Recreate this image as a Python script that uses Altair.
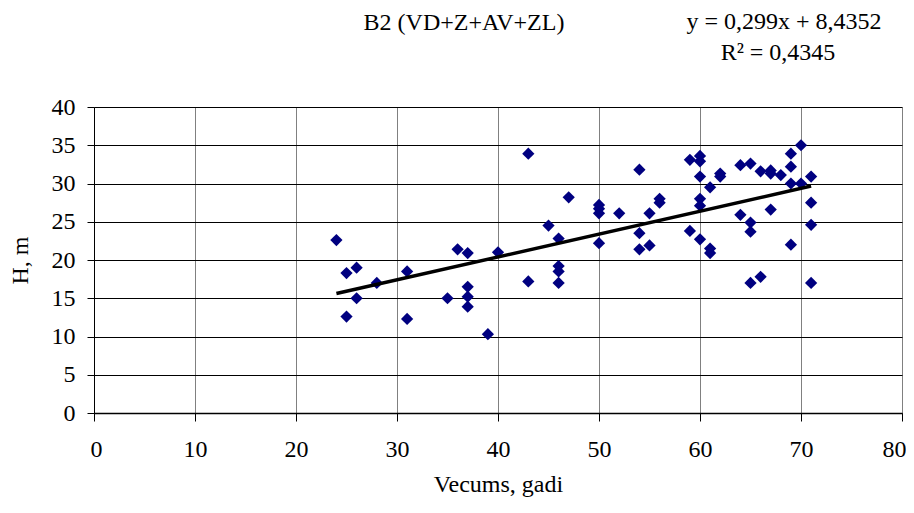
import altair as alt
import pandas as pd

# Data (age in years, height in m)
age = [24, 25, 25, 26, 26, 28, 31, 31, 35, 36, 37, 37, 37, 37, 39, 40,
       43, 43, 45, 46, 46, 46, 46, 47, 50, 50, 50, 50, 52, 54, 54, 54,
       55, 55, 56, 56, 59, 59, 60, 60, 60, 60, 60, 60, 61, 61, 61, 62, 62,
       64, 64, 65, 65, 65, 65, 66, 66, 67, 67, 67, 68, 69, 69, 69, 69,
       70, 70, 71, 71, 71, 71]
height = [22.6, 18.3, 12.6, 19.0, 15.0, 17.0, 18.5, 12.3, 15.0, 21.4, 20.9, 16.5, 15.2, 13.9, 10.3, 21.0,
          33.9, 17.2, 24.5, 22.8, 19.2, 18.5, 17.0, 28.2, 27.2, 26.7, 26.1, 22.2, 26.1, 31.8, 23.5, 21.4,
          26.1, 21.9, 28.0, 27.5, 33.1, 23.8, 33.6, 32.9, 30.9, 28.0, 27.1, 22.7, 29.5, 21.5, 20.9, 31.3, 30.9,
          32.4, 25.9, 32.6, 24.9, 23.7, 17.0, 31.6, 17.8, 31.7, 31.3, 26.6, 31.1, 33.9, 32.2, 30.0, 22.0,
          35.0, 30.0, 30.9, 27.5, 24.6, 17.0]

slope = 0.299
intercept = 8.4352
trend_x = [24, 71]

x_ticks = [0, 10, 20, 30, 40, 50, 60, 70, 80]
y_ticks = [0, 5, 10, 15, 20, 25, 30, 35, 40]

title_text = "B2 (VD+Z+AV+ZL)"
eq_text = "y = 0,299x + 8,4352"
r2_text = "R² = 0,4345"

FONT = "Liberation Serif"

df = pd.DataFrame({"age": age, "h": height})
trend = pd.DataFrame({"age": trend_x, "h": [slope * v + intercept for v in trend_x]})

xscale = alt.Scale(domain=[0, 80], nice=False)
yscale = alt.Scale(domain=[0, 40], nice=False)

xaxis = alt.Axis(values=x_ticks, tickCount=50, tickSize=8, labelPadding=16,
                 labelFontSize=24, labelFont=FONT, labelColor="black",
                 labelFlush=True, labelFlushOffset=4, labelOverlap=False,
                 title="Vecums, gadi", titleFont=FONT, titleFontSize=24,
                 titleFontWeight="normal", titleColor="black", titlePadding=11,
                 gridColor="#808080", gridOpacity=1, domainColor="black",
                 tickColor="black", domainWidth=1.5)
yaxis = alt.Axis(values=y_ticks, tickCount=50, tickSize=7, labelPadding=12,
                 labelFontSize=24, labelFont=FONT, labelColor="black",
                 labelFlush=False, labelOverlap=False,
                 title="H, m", titleFont=FONT, titleFontSize=24,
                 titleFontWeight="normal", titleColor="black", titlePadding=19,
                 gridColor="black", gridOpacity=1, domainColor="black",
                 tickColor="black")

points = alt.Chart(df).mark_point(shape="diamond", filled=True, size=150,
                                  color="#000080", opacity=1).encode(
    x=alt.X("age:Q", scale=xscale, axis=xaxis),
    y=alt.Y("h:Q", scale=yscale, axis=yaxis),
)

line = alt.Chart(trend).mark_line(color="black", strokeWidth=3.5).encode(
    x=alt.X("age:Q", scale=xscale, axis=xaxis),
    y=alt.Y("h:Q", scale=yscale, axis=yaxis),
)

def label(txt, px, py):
    return alt.Chart(pd.DataFrame({"t": [txt]})).mark_text(
        font=FONT, fontSize=24, color="black", align="center",
        baseline="alphabetic").encode(
        text="t:N", x=alt.value(px), y=alt.value(py))

chart = alt.layer(
    points, line,
    label(title_text, 370, -77),
    label(eq_text, 690, -78),
    label(r2_text, 684, -47),
).properties(
    width=808, height=306,
    autosize=alt.AutoSizeParams(type="none"),
    padding={"left": 86, "top": 99, "right": 4, "bottom": 87},
).configure_view(stroke="#808080", strokeWidth=1.5).configure(background="white")

chart.save("out.html", embed_options={"renderer": "svg", "actions": False})
